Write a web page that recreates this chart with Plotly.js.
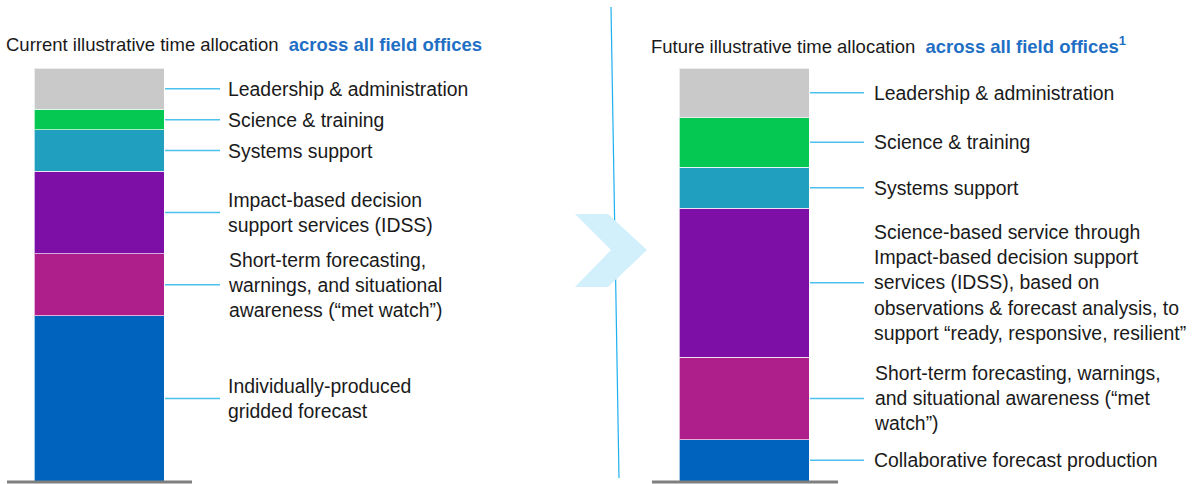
<!DOCTYPE html>
<html>
<head>
<meta charset="utf-8">
<script src="https://cdn.plot.ly/plotly-3.0.1.min.js"></script>
<style>
  html, body { margin: 0; padding: 0; background: #fff; }
  #chart { width: 1199px; height: 484px; }
</style>
</head>
<body>
<div id="chart"></div>
<script>
// segment labels, top to bottom
var labelsCurrent = [
  "Leadership & administration",
  "Science & training",
  "Systems support",
  "Impact-based decision<br>support services (IDSS)",
  "Short-term forecasting,<br>warnings, and situational<br>awareness (\u201cmet watch\u201d)",
  "Individually-produced<br>gridded forecast"
];
var labelsFuture = [
  "Leadership & administration",
  "Science & training",
  "Systems support",
  "Science-based service through<br>Impact-based decision support<br>services (IDSS), based on<br>observations & forecast analysis, to<br>support \u201cready, responsive, resilient\u201d",
  "Short-term forecasting, warnings,<br>and situational awareness (\u201cmet<br>watch\u201d)",
  "Collaborative forecast production"
];
// share of time (%), top to bottom
var valuesCurrent = [10, 5, 10, 20, 15, 40];
var valuesFuture = [12, 12, 10, 36, 20, 10];

var segColors = ["#C9C9C9", "#05C853", "#20A0BE", "#7D0EA6", "#AE1F8C", "#0064BE"];

var W = 1199, H = 484;
function px(x) { return x / W; }
function py(y) { return 1 - y / H; }

var textFont = { family: "Liberation Sans, Arial, sans-serif", size: 19.4, color: "#1a1a1a" };
var titleBlue = "#1F6FC5";
var connColor = "#4CC1EE";

var traces = [];
var shapes = [];
var annotations = [];

function addBar(values, labels, xa, ya, connX0, connX1, textX) {
  // bottom segment first so the stack reads top-to-bottom like the lists
  for (var i = values.length - 1; i >= 0; i--) {
    traces.push({
      type: "bar",
      x: [0],
      y: [values[i]],
      width: 1,
      xaxis: xa,
      yaxis: ya,
      marker: { color: segColors[i], line: { color: "rgba(255,255,255,0.65)", width: 1 } },
      hoverinfo: "skip",
      showlegend: false
    });
  }
  var top = 0;
  values.forEach(function (v) { top += v; });
  var acc = top;
  var yref = ya === "y" ? "y" : "y2";
  values.forEach(function (v, i) {
    var mid = acc - v / 2;
    acc -= v;
    shapes.push({
      type: "line", xref: "paper", yref: yref,
      x0: px(connX0), x1: px(connX1), y0: mid, y1: mid,
      line: { color: connColor, width: 1.5 }
    });
    annotations.push({
      xref: "paper", yref: yref, x: px(textX), y: mid,
      xanchor: "left", yanchor: "middle", align: "left",
      text: labels[i], showarrow: false, font: textFont
    });
  });
}

addBar(valuesCurrent, labelsCurrent, "x", "y", 165, 220, 226);
addBar(valuesFuture, labelsFuture, "x2", "y2", 810, 864, 872);

// titles
annotations.push({
  xref: "paper", yref: "paper", x: px(4), y: py(45), xanchor: "left", yanchor: "middle",
  showarrow: false, font: { family: textFont.family, size: 18.5, color: "#1a1a1a" },
  text: "Current illustrative time allocation  <b><span style='color:" + titleBlue + "'>across all field offices</span></b>"
});
annotations.push({
  xref: "paper", yref: "paper", x: px(649), y: py(45), xanchor: "left", yanchor: "middle",
  showarrow: false, font: { family: textFont.family, size: 18.5, color: "#1a1a1a" },
  text: "Future illustrative time allocation  <b><span style='color:" + titleBlue + "'>across all field offices<sup>1</sup></span></b>"
});

// baselines
shapes.push({ type: "line", xref: "paper", yref: "paper", x0: px(7), x1: px(192), y0: py(482), y1: py(482),
  line: { color: "#7F7F7F", width: 3 } });
shapes.push({ type: "line", xref: "paper", yref: "paper", x0: px(652), x1: px(838), y0: py(482), y1: py(482),
  line: { color: "#7F7F7F", width: 3 } });

// divider
shapes.push({ type: "line", xref: "paper", yref: "paper", x0: px(611), x1: px(619), y0: py(7), y1: py(478),
  line: { color: "#1DB0EE", width: 1.2 } });
// chevron, drawn over the divider
var chev = [[575, 214], [608, 214], [647, 250], [608, 287], [575, 287], [611, 250]];
shapes.push({
  type: "path", xref: "paper", yref: "paper", layer: "above",
  path: "M" + chev.map(function (p) { return px(p[0]) + "," + py(p[1]); }).join(" L") + " Z",
  fillcolor: "#D2F0FB", line: { width: 0 }
});

var axX = { showgrid: false, zeroline: false, showticklabels: false, showline: false, range: [-0.5, 0.5], fixedrange: true };
var axY = { showgrid: false, zeroline: false, showticklabels: false, showline: false, range: [0, 100], fixedrange: true };

var layout = {
  width: W, height: H,
  margin: { l: 0, r: 0, t: 0, b: 0 },
  paper_bgcolor: "#ffffff", plot_bgcolor: "rgba(0,0,0,0)",
  barmode: "stack",
  bargap: 0,
  xaxis: Object.assign({}, axX, { domain: [px(34), px(164)], anchor: "y" }),
  yaxis: Object.assign({}, axY, { domain: [py(481), py(68)], anchor: "x" }),
  xaxis2: Object.assign({}, axX, { domain: [px(679), px(809)], anchor: "y2" }),
  yaxis2: Object.assign({}, axY, { domain: [py(481), py(68)], anchor: "x2" }),
  shapes: shapes,
  annotations: annotations,
  showlegend: false
};

Plotly.newPlot("chart", traces, layout, { displayModeBar: false, staticPlot: true });
</script>
</body>
</html>
